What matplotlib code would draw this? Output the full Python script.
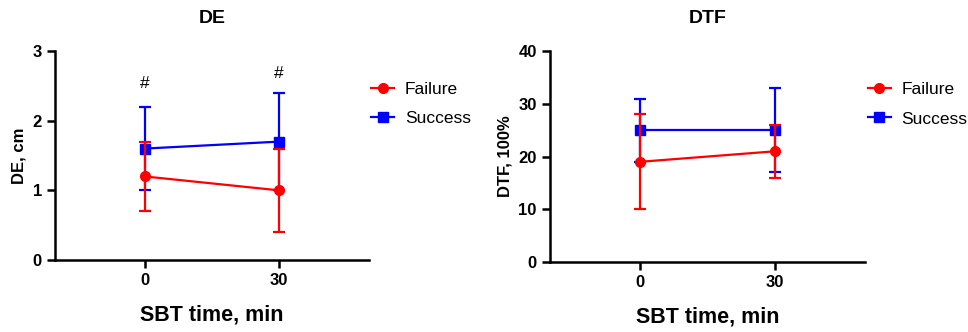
"""Two-panel GraphPad-style chart: DE and DTF vs SBT time, failure vs success."""

import matplotlib

matplotlib.use("Agg")
import matplotlib.pyplot as plt
from matplotlib.lines import Line2D

plt.rcParams["font.family"] = ["Liberation Sans", "DejaVu Sans"]

# ---- Data ---------------------------------------------------------------
times = [0, 30]

de_failure = [1.2, 1.0]
de_failure_sd = [0.5, 0.6]
de_success = [1.6, 1.7]
de_success_sd = [0.6, 0.7]
de_hash_y = [2.53, 2.68]

dtf_failure = [19, 21]
dtf_failure_sd = [9, 5]
dtf_success = [25, 25]
dtf_success_sd = [6, 8]

RED = "#ff0000"
BLUE = "#0000ff"


def draw_panel(ax, fail, fail_sd, succ, succ_sd, title, ylabel, ymax, ystep):
    ax.errorbar(times, succ, yerr=succ_sd, color=BLUE, marker="s", ms=7,
                lw=1.6, elinewidth=1.6, capsize=4, capthick=1.6, zorder=2)
    ax.errorbar(times, fail, yerr=fail_sd, color=RED, marker="o", ms=7,
                lw=1.6, elinewidth=1.6, capsize=4, capthick=1.6, zorder=3)
    ax.set_xlim(-20, 50)
    ax.set_ylim(0, ymax)
    ax.set_xticks(times)
    ax.set_yticks(range(0, ymax + 1, ystep))
    for side in ("top", "right"):
        ax.spines[side].set_visible(False)
    for side in ("left", "bottom"):
        ax.spines[side].set_linewidth(1.8)
    ax.tick_params(width=1.8, length=6, labelsize=12)
    for lbl in ax.get_xticklabels() + ax.get_yticklabels():
        lbl.set_fontweight("bold")
    ax.set_title(title, fontsize=14, fontweight="bold", pad=20)
    ax.set_xlabel("SBT time, min", fontsize=15.5, fontweight="bold", labelpad=12)
    ax.set_ylabel(ylabel, fontsize=12, fontweight="bold", labelpad=4)

    handles = [
        Line2D([], [], color=RED, marker="o", ms=7, lw=1.6),
        Line2D([], [], color=BLUE, marker="s", ms=7, lw=1.6),
    ]
    ax.legend(handles, ["Failure", "Success"], loc="upper left",
              bbox_to_anchor=(0.985, 0.885), frameon=False, fontsize=12.5,
              handlelength=1.35, handletextpad=0.6, labelspacing=0.8,
              borderaxespad=0.0)


fig = plt.figure(figsize=(9.68, 3.32), dpi=100)
ax1 = fig.add_axes([0.0568, 0.217, 0.324, 0.629])
ax2 = fig.add_axes([0.568, 0.211, 0.326, 0.635])

draw_panel(ax1, de_failure, de_failure_sd, de_success, de_success_sd,
           "DE", "DE, cm", 3, 1)
for t, y in zip(times, de_hash_y):
    ax1.text(t, y, "#", ha="center", va="center", fontsize=12.5)

draw_panel(ax2, dtf_failure, dtf_failure_sd, dtf_success, dtf_success_sd,
           "DTF", "DTF, 100%", 40, 10)

fig.savefig("out.png", dpi=100)
